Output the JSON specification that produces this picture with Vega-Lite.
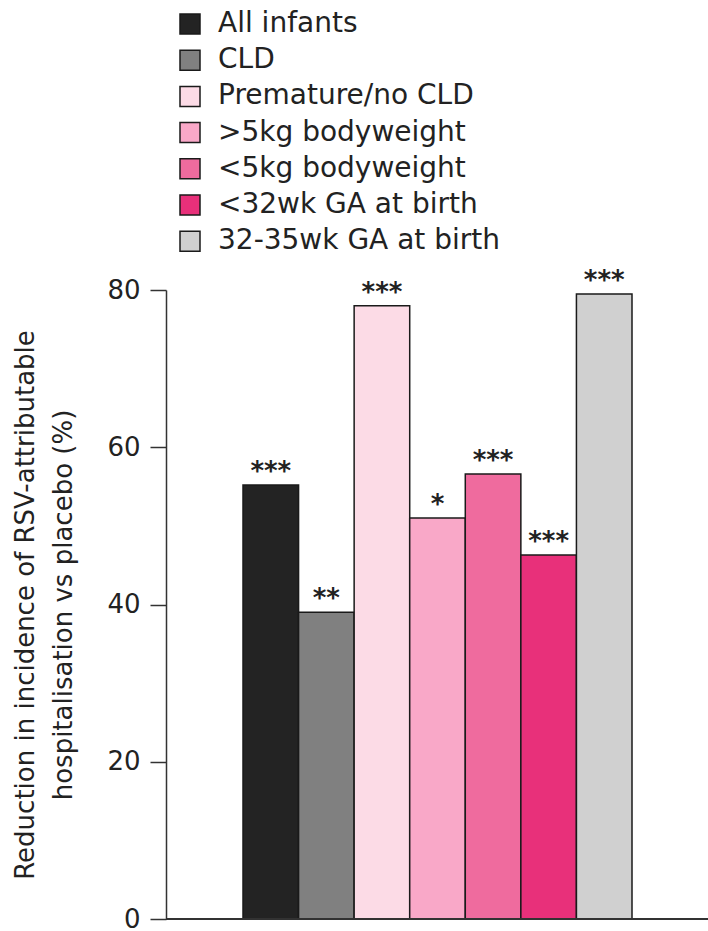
{
  "$schema": "https://vega.github.io/schema/vega-lite/v6.json",
  "width": 542,
  "height": 629,
  "autosize": {"type": "none"},
  "padding": {"left": 166, "top": 290, "right": 0, "bottom": 12},
  "background": "white",
  "config": {
    "view": {"stroke": null},
    "font": "DejaVu Sans"
  },
  "data": {
    "values": [
      {"group": "All infants", "reduction": 55.2, "sig": "***"},
      {"group": "CLD", "reduction": 39, "sig": "**"},
      {"group": "Premature/no CLD", "reduction": 78, "sig": "***"},
      {"group": ">5kg bodyweight", "reduction": 51, "sig": "*"},
      {"group": "<5kg bodyweight", "reduction": 56.6, "sig": "***"},
      {"group": "<32wk GA at birth", "reduction": 46.3, "sig": "***"},
      {"group": "32-35wk GA at birth", "reduction": 79.5, "sig": "***"}
    ]
  },
  "encoding": {
    "x": {
      "field": "group",
      "type": "nominal",
      "sort": null,
      "scale": {"paddingInner": 0, "paddingOuter": 0, "range": [77, 466]},
      "axis": null
    },
    "y": {
      "field": "reduction",
      "type": "quantitative",
      "scale": {"domain": [0, 80]},
      "axis": {
        "values": [0, 20, 40, 60, 80],
        "grid": false,
        "tickSize": 16,
        "tickWidth": 1.5,
        "tickColor": "#333333",
        "domainColor": "#333333",
        "domainWidth": 1.5,
        "labelPadding": 10,
        "labelFont": "DejaVu Sans",
        "labelFontSize": 26,
        "labelColor": "#222222",
        "labelFlush": false,
        "title": ["Reduction in incidence of RSV-attributable", "hospitalisation vs placebo (%)"],
        "titleFont": "DejaVu Sans",
        "titleFontSize": 26,
        "titleFontWeight": "normal",
        "titleColor": "#222222",
        "titleLineHeight": 38,
        "titlePadding": 30
      }
    }
  },
  "layer": [
    {
      "mark": {"type": "bar", "stroke": "#1a1a1a", "strokeWidth": 1.5},
      "encoding": {
        "color": {
          "field": "group",
          "type": "nominal",
          "sort": null,
          "scale": {
            "domain": ["All infants", "CLD", "Premature/no CLD", ">5kg bodyweight", "<5kg bodyweight", "<32wk GA at birth", "32-35wk GA at birth"],
            "range": ["#232323", "#808080", "#fcdbe6", "#f9a8c8", "#ef6b9e", "#e8307a", "#d0d0d0"]
          },
          "legend": {
            "orient": "none",
            "legendX": 10,
            "legendY": -280,
            "title": null,
            "padding": 0,
            "symbolType": "square",
            "symbolSize": 400,
            "symbolStrokeColor": "#1a1a1a",
            "symbolStrokeWidth": 1.5,
            "symbolOpacity": 1,
            "labelFont": "DejaVu Sans",
            "labelFontSize": 28,
            "labelColor": "#222222",
            "labelOffset": 14,
            "labelLimit": 500,
            "rowPadding": 8.2
          }
        }
      }
    },
    {
      "mark": {
        "type": "text",
        "baseline": "alphabetic",
        "dy": -5,
        "font": "DejaVu Sans",
        "fontSize": 26,
        "fontWeight": "bold",
        "color": "#222222"
      },
      "encoding": {
        "text": {"field": "sig"}
      }
    },
    {
      "mark": {"type": "rule", "color": "#333333", "strokeWidth": 1.5},
      "encoding": {
        "y": {"datum": 0},
        "x": {"value": 0},
        "x2": {"value": 542}
      }
    }
  ]
}
